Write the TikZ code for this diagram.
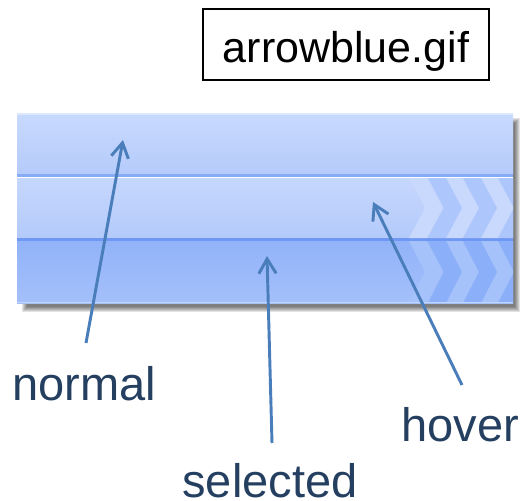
\documentclass[tikz,border=0pt]{standalone}
\usepackage{fontspec}
\setmainfont{Liberation Sans}
\usetikzlibrary{arrows.meta}
\definecolor{txt}{HTML}{243F60}
\definecolor{arr}{HTML}{4A7EBB}
\definecolor{topA}{HTML}{C8D9FD}
\definecolor{topB}{HTML}{B5CBFB}
\definecolor{midA}{HTML}{C6D7FD}
\definecolor{midB}{HTML}{B3CAFA}
\definecolor{botA}{HTML}{92B3F9}
\definecolor{botB}{HTML}{A4C0FA}
\definecolor{lineA}{HTML}{88ABF6}
\definecolor{lineB}{HTML}{6E98F4}
\definecolor{edgeL}{HTML}{C2D5FC}
\definecolor{chevDm}{HTML}{ADC6FB}
\definecolor{chevLm}{HTML}{C9D9FD}
\definecolor{chevDb}{HTML}{8BAFF8}
\definecolor{chevLb}{HTML}{A6C2FA}
\newcommand\mychev[4]{%
  \fill[#4] ({#1-16},#2) -- (#1,{(#2+#3)/2}) -- ({#1-16},#3) -- ({#1-34},#3)
    -- ({#1-18},{(#2+#3)/2}) -- ({#1-34},#2) -- cycle;}
\tikzset{
  lbl/.style={font=\fontsize{35.25}{40}\selectfont, text=txt, inner sep=0pt, anchor=base},
  ptr/.style={draw=arr, line width=2.2pt, -{Straight Barb[length=11pt,width=13pt]}},
  titlebox/.style={draw=black, line width=1.4pt, inner xsep=0pt, inner ysep=0pt,
    font=\fontsize{32.25}{38}\selectfont, text height=39.75pt, text depth=13.5pt,
    minimum width=214.5pt, anchor=base},
}
\begin{document}
\begin{tikzpicture}[x=0.75pt,y=-0.75pt]
\useasboundingbox (0,0) rectangle (525,500);
% title box
\node[titlebox] (title) at (346,62) {arrowblue.gif};
% shadow
\foreach \i in {0,...,5}
  \fill[black,opacity=0.11] ({22+\i},{118+\i}) rectangle ({520-\i},{312-\i});
% image bands
\fill[white] (17,113) rectangle (513,303);
\shade[top color=topA, bottom color=topB] (17,113) rectangle (513,174);
\fill[lineA] (17,174) rectangle (513,176.5);
\fill[white] (17,176.5) rectangle (513,178);
\shade[top color=midA, bottom color=midB] (17,178) rectangle (513,238);
\fill[lineB] (17,238) rectangle (513,241);
\shade[top color=botA, bottom color=botB] (17,241) rectangle (513,303);
\fill[edgeL] (17,301.5) rectangle (513,303);
\fill[white,opacity=0.4] (17,113) rectangle (513,114.5);
\begin{scope}
  \clip (17,178) rectangle (513,238);
  \foreach \t in {443,479,514} \mychev{\t}{178}{238}{chevLm};
  \foreach \t in {462,497,532} \mychev{\t}{178}{238}{chevDm};
\end{scope}
\begin{scope}
  \clip (17,241) rectangle (513,301.5);
  \foreach \t in {443,479,514} \mychev{\t}{241}{303}{chevLb};
  \foreach \t in {462,497,532} \mychev{\t}{241}{303}{chevDb};
\end{scope}
% labels
\node[lbl] (normal) at (84,400) {normal};
\node[lbl] (hover) at (460.5,441) {hover};
\node[lbl] (selected) at (270,497) {selected};
% connector ends
\coordinate (normalTail) at (86,343);
\coordinate (normalTip) at (123,140);
\coordinate (selTail) at (272,443);
\coordinate (selTip) at (267,256);
\coordinate (hovTail) at (462,385);
\coordinate (hovTip) at (373,202);
\draw[ptr] (normalTail) -- (normalTip);
\draw[ptr] (selTail) -- (selTip);
\draw[ptr] (hovTail) -- (hovTip);
\end{tikzpicture}
\end{document}
